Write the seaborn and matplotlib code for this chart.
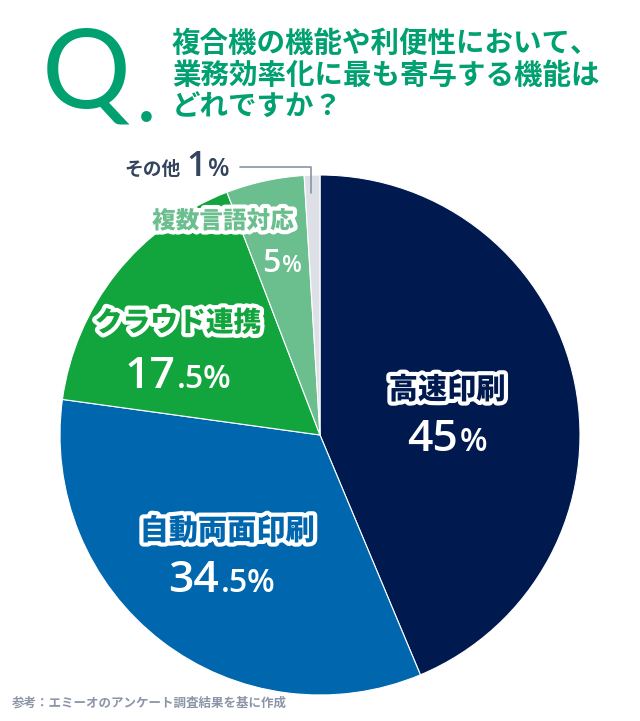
import matplotlib
matplotlib.use("Agg")
import matplotlib.pyplot as plt
import matplotlib.patheffects as pe
from matplotlib.offsetbox import TextArea, HPacker, AnnotationBbox
import seaborn as sns

# data
labels = ["高速印刷", "自動両面印刷", "クラウド連携", "複数言語対応", "その他"]
values = [45, 34.5, 17.5, 5, 1]
colors = ["#001a4f", "#0066ad", "#12a43d", "#6bbf8e", "#dde0e7"]
title_lines = ["複合機の機能や利便性において、", "業務効率化に最も寄与する機能は", "どれですか？"]
note = "参考：エミーオのアンケート調査結果を基に作成"

sns.set_theme(style="white")
plt.rcParams["font.family"] = ["Noto Sans CJK JP", "DejaVu Sans"]

W, H = 640, 721
fig = plt.figure(figsize=(W / 100, H / 100), dpi=100)
fig.patch.set_facecolor("white")


def px(x, y):
    return x / W, 1 - y / H


# pie axes: centre (320, 435), radius 260
cx, cy, r = 320, 435, 260
ax = fig.add_axes([(cx - r) / W, (H - cy - r) / H, 2 * r / W, 2 * r / H])
ax.pie(values, colors=colors, startangle=90, counterclock=False, radius=1,
       wedgeprops=dict(edgecolor="white", linewidth=0.8))
ax.set_xlim(-1, 1)
ax.set_ylim(-1, 1)
ax.set_aspect("equal")
ax.axis("off")

# title
green = "#00a070"
fig.text(*px(86, 76), "Q", color=green, fontsize=80, ha="center", va="center",
         family=["Lato", "Noto Sans", "DejaVu Sans"], fontweight="normal")
fig.text(*px(146, 104), ".", color=green, fontsize=42, ha="center", va="center",
         fontweight="bold")
for i, line in enumerate(title_lines):
    fig.text(*px(172, 44 + i * 32), line, color=green, fontsize=20.5,
             fontweight="bold", ha="left", va="center")


def stroked(x, y, s, color, size):
    fig.text(*px(x, y), s, color=color, fontsize=size, fontweight="black",
             ha="center", va="center",
             path_effects=[pe.withStroke(linewidth=6, foreground="white")])


def number(x, y, big, small, size, color="white"):
    fam = ["Open Sans", "Noto Sans", "DejaVu Sans"]
    parts = [TextArea(big, textprops=dict(color=color, fontsize=size,
                                          family=fam, fontweight="semibold")),
             TextArea(small, textprops=dict(color=color, fontsize=size * 0.72,
                                            family=fam, fontweight="semibold"))]
    box = HPacker(children=parts, align="baseline", pad=0, sep=1)
    ab = AnnotationBbox(box, px(x, y), xycoords="figure fraction",
                        frameon=False, box_alignment=(0.5, 0.5))
    fig.add_artist(ab)


# slice labels
stroked(447, 390, labels[0], colors[0], 21)
number(447, 440, "45", "%", 32)

stroked(227, 531, labels[1], colors[1], 21)
number(222, 581, "34", ".5%", 32)

stroked(178, 323, labels[2], colors[2], 20)
number(178, 376, "17", ".5%", 32)

stroked(223, 221, labels[3], colors[3], 17)
number(282, 263, "5", "%", 23)

# その他 with leader line
dark = "#34445f"
fig.text(*px(152, 169), labels[4], color=dark, fontsize=13.5, fontweight="bold",
         ha="center", va="center")
number(208, 167, "1", "%", 25, color=dark)
fig.add_artist(plt.Line2D([240 / W, 311 / W, 311 / W],
                          [1 - 167 / H, 1 - 167 / H, 1 - 193 / H],
                          color="#8a94a6", linewidth=1.2))

# note
fig.text(*px(12, 703), note, color="#8c95a8", fontsize=9, fontweight="bold",
         ha="left", va="center")

fig.savefig("out.png", dpi=100, facecolor="white")
